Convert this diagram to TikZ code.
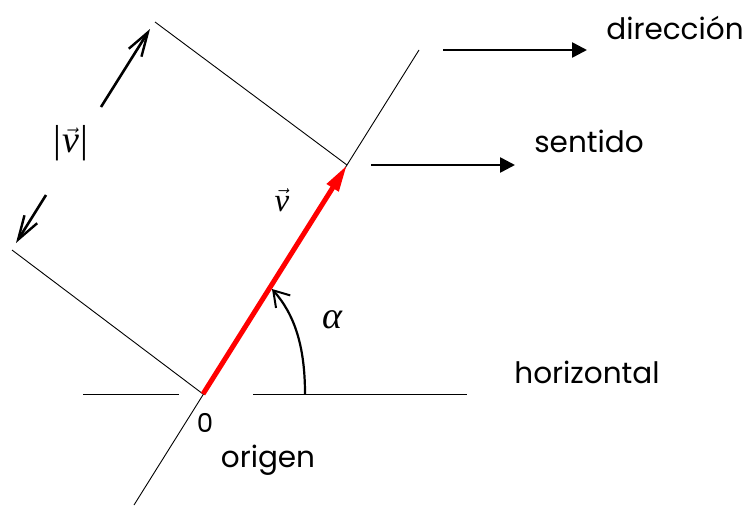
\documentclass[tikz,border=0pt]{standalone}
\usepackage{fontspec}
\usepackage{graphicx}
\setmainfont{Poppins}
\newfontfamily\tms{Liberation Serif}
\usetikzlibrary{arrows.meta}
% #1 scale of v, #2 scale of the arrow accent, #3 raise of the accent
\newcommand\myvec[3]{%
  \setbox0\hbox{\scalebox{#1}{\normalsize\tms\itshape v}}%
  \hbox to \wd0{\hss\raisebox{#3}[0pt][0pt]{\scalebox{#2}{\normalsize$\vec{\phantom{v}}$}}\hss}%
  \kern-\wd0\box0}
\newcommand\mybar{\scalebox{3.9}{\normalsize\tms|}}
\begin{document}
\begin{tikzpicture}[x=1pt,y=-1pt,
  thin line/.style={line width=0.9pt,black},
  barb/.style={line width=2.6pt,-{Straight Barb[length=24pt,width=15pt,line width=2.4pt]}},
  fill arrow/.style={line width=2.6pt,-{Triangle[length=15pt,width=15pt]}},
  lbl/.style={font=\fontsize{29.5}{29.5}\selectfont,inner sep=0pt},
  zlbl/.style={font=\fontsize{26}{26}\selectfont,inner sep=0pt},
  mlbl/.style={inner sep=0pt}]
\useasboundingbox (0,0) rectangle (744,506);
% key points
\coordinate (O) at (203,394);
\coordinate (T) at (347,165);
\coordinate (Lup) at (419,50);
\coordinate (Llo) at (134,505);
\coordinate (Pa) at (155,22);
\coordinate (Pb) at (12,250);
\coordinate (Hl1) at (83,394);
\coordinate (Hl2) at (179,394);
\coordinate (Hr1) at (253,394);
\coordinate (Hr2) at (467,394);
% lines
\draw[thin line] (Llo) -- (Lup);
\draw[thin line] (T) -- (Pa);
\draw[thin line] (O) -- (Pb);
\draw[thin line] (Hl1) -- (Hl2);
\draw[thin line] (Hr1) -- (Hr2);
% red vector
\draw[red,line width=5pt,-{Triangle[length=27pt,width=13pt]}] (O) -- (T);
% magnitude arrows
\coordinate (A1s) at (101,107);
\coordinate (A1e) at (150,29);
\coordinate (A2s) at (46,195);
\coordinate (A2e) at (16,243);
\draw[barb] (A1s) -- (A1e);
\draw[barb] (A2s) -- (A2e);
% angle arc
\coordinate (Ar1) at (305,394);
\coordinate (Ar2) at (272,289);
\draw[line width=2.2pt,-{Straight Barb[length=15pt,width=19pt,line width=2pt]}] (Ar1) .. controls (305,345) and (294,314) .. (Ar2);
% right arrows
\coordinate (D1) at (443,50);
\coordinate (D2) at (587,50);
\coordinate (S1) at (371,165);
\coordinate (S2) at (515,165);
\draw[fill arrow] (D1) -- (D2);
\draw[fill arrow] (S1) -- (S2);
% labels
\node[lbl] (dir) at (675,28) {dirección};
\node[lbl] (sen) at (589,141) {sentido};
\node[lbl] (hor) at (587,372) {horizontal};
\node[lbl] (orig) at (268,460) {origen};
\node[zlbl] (zero) at (205,423) {0};
\node[mlbl,anchor=base] (mod) at (71,152) {\mybar\kern1pt\myvec{3.8}{2.6}{6pt}\kern1pt\mybar};
\node[mlbl,anchor=base] (vv) at (282,211) {\myvec{3.3}{2.5}{5pt}};
\node[mlbl] (alpha) at (332,320) {\scalebox{3.8}{\normalsize\tms\itshape α}};
\end{tikzpicture}
\end{document}
